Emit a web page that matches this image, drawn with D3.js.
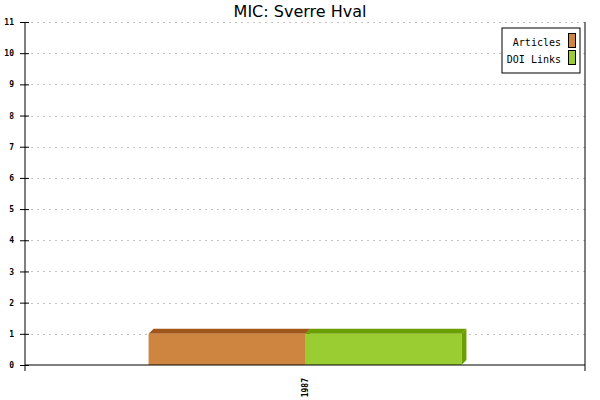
<!DOCTYPE html>
<meta charset="utf-8">
<script src="https://d3js.org/d3.v7.min.js"></script>
<style>
body { margin: 0; background: #fff; }
.grid line { stroke: #c4c4c4; stroke-dasharray: 2,4; shape-rendering: crispEdges; }
.grid path { stroke-width: 0; }
.tick text { font-family: "DejaVu Sans Mono", monospace; font-size: 8px; font-weight: bold; }
</style>
<div id="my_dataviz"></div>
<script>

// data
var years = ["1987"];
var articles = [1];
var doiLinks = [1];
var seriesNames = ["Articles", "DOI Links"];
var seriesColors = ["#cd853f", "#9acd32"];
var topColors = ["#a0561b", "#6b9e00"];
var yTicks = [0, 1, 2, 3, 4, 5, 6, 7, 8, 9, 10, 11];

var margin = {top: 22, right: 15, bottom: 35, left: 25},
    width = 600 - margin.left - margin.right,
    height = 400 - margin.top - margin.bottom;

var root = d3.select("#my_dataviz")
  .append("svg")
    .attr("width", 600)
    .attr("height", 400);

// title
root.append("text")
  .attr("x", 300)
  .attr("y", 17)
  .attr("text-anchor", "middle")
  .style("font-family", "DejaVu Sans, sans-serif")
  .style("font-size", "16px")
  .text("MIC: Sverre Hval");

var svg = root.append("g")
  .attr("transform", "translate(" + margin.left + "," + margin.top + ")");

var x = d3.scaleBand()
  .domain(years)
  .range([0, width])
  .paddingInner(0)
  .paddingOuter(0.395);

var y = d3.scaleLinear()
  .domain([0, 11])
  .range([height, 0]);

// gridlines
svg.append("g")
  .attr("class", "grid")
  .call(d3.axisLeft(y).tickValues(yTicks.slice(1)).tickSize(-width).tickFormat(""));

// right border line
svg.append("line")
  .attr("x1", width).attr("x2", width)
  .attr("y1", 0).attr("y2", height + 6)
  .attr("stroke", "black");

// bars
var sub = d3.scaleBand()
  .domain(seriesNames)
  .range([0, x.bandwidth()]);

var rows = [articles, doiLinks];
var depth = 5;

years.forEach(function(yr, i) {
  rows.forEach(function(vals, s) {
    var bx = x(yr) + sub(seriesNames[s]);
    var bw = sub.bandwidth();
    var by = y(vals[i]);
    var g = svg.append("g");
    // top face
    g.append("path")
      .attr("d", "M" + bx + "," + by + "L" + (bx + depth) + "," + (by - depth) +
                 "L" + (bx + bw + depth) + "," + (by - depth) + "L" + (bx + bw) + "," + by + "Z")
      .attr("fill", topColors[s]);
    // side face
    g.append("path")
      .attr("d", "M" + (bx + bw) + "," + by + "L" + (bx + bw + depth) + "," + (by - depth) +
                 "L" + (bx + bw + depth) + "," + (y(0) - depth) + "L" + (bx + bw) + "," + y(0) + "Z")
      .attr("fill", topColors[s]);
    // front
    g.append("rect")
      .attr("x", bx)
      .attr("y", by)
      .attr("width", bw)
      .attr("height", y(0) - by)
      .attr("fill", seriesColors[s]);
  });
});

// y axis
var yAxis = svg.append("g")
  .call(d3.axisLeft(y).tickValues(yTicks).tickSize(5).tickSizeOuter(0).tickPadding(6));
yAxis.select(".domain").remove();
yAxis.selectAll(".tick line").attr("x2", -5).attr("x1", 4);
svg.append("line")
  .attr("x1", 0).attr("x2", 0)
  .attr("y1", 0).attr("y2", height + 6)
  .attr("stroke", "black");

// x axis
svg.append("line")
  .attr("x1", 0).attr("x2", width)
  .attr("y1", height).attr("y2", height)
  .attr("stroke", "black");

years.forEach(function(yr) {
  svg.append("text")
    .attr("transform", "translate(" + (x(yr) + x.bandwidth() / 2 + 3) + "," + (height + 13) + ") rotate(-90)")
    .attr("text-anchor", "end")
    .style("font-family", "DejaVu Sans Mono, monospace")
    .style("font-size", "8px")
    .style("font-weight", "bold")
    .text(yr);
});

// legend
var lg = root.append("g").attr("transform", "translate(502,28)");
lg.append("rect")
  .attr("width", 78).attr("height", 45)
  .attr("fill", "white").attr("stroke", "black");
seriesNames.forEach(function(n, i) {
  lg.append("text")
    .attr("x", 59)
    .attr("y", 18 + i * 17)
    .attr("text-anchor", "end")
    .style("font-family", "DejaVu Sans Mono, monospace")
    .style("font-size", "10px")
    .text(n);
  lg.append("rect")
    .attr("x", 66.5).attr("y", 5.5 + i * 17)
    .attr("width", 7).attr("height", 14)
    .attr("fill", seriesColors[i]).attr("stroke", "black");
});
</script>
